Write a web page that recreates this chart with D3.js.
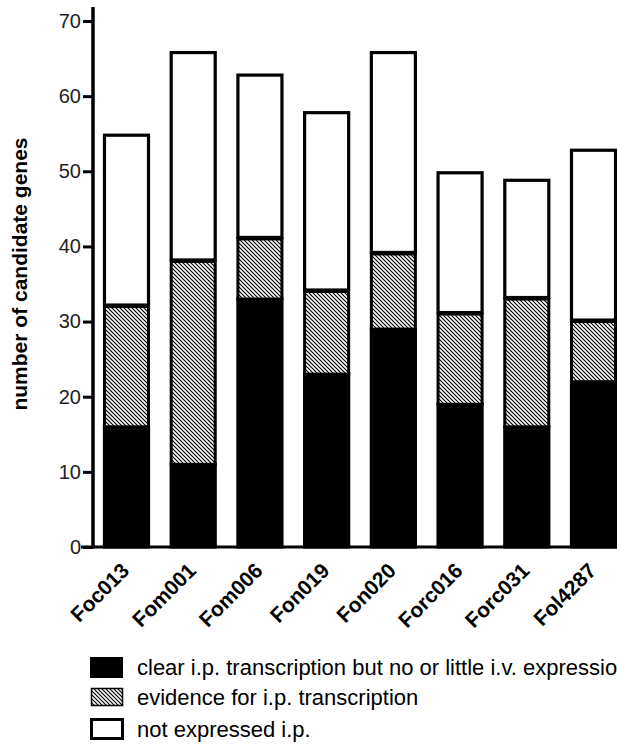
<!DOCTYPE html>
<html>
<head>
<meta charset="utf-8">
<script src="https://cdn.jsdelivr.net/npm/d3@7"></script>
<style>
  html, body { margin: 0; padding: 0; background: #fff; }
  svg { display: block; font-family: 'Liberation Sans', Arial, sans-serif; }
</style>
</head>
<body>
<div id="chart"></div>
<script>
// strains on the x axis
const strains = ['Foc013', 'Fom001', 'Fom006', 'Fon019', 'Fon020', 'Forc016', 'Forc031', 'Fol4287']
// stacked counts, bottom to top
const clearIp = [16, 11, 33, 23, 29, 19, 16, 22]
const evidenceIp = [16, 27, 8, 11, 10, 12, 17, 8]
const notExpressed = [23, 28, 22, 24, 27, 19, 16, 23]
const yTicks = [0, 10, 20, 30, 40, 50, 60, 70]
const legendLabels = [
  'clear i.p. transcription but no or little i.v. expression',
  'evidence for i.p. transcription',
  'not expressed i.p.'
]

const width = 617
const height = 745

const svg = d3.select('#chart')
  .append('svg')
  .attr('width', width)
  .attr('height', height)

// diagonal hatch like the original
const defs = svg.append('defs')
defs.append('pattern')
  .attr('id', 'hatch')
  .attr('patternUnits', 'userSpaceOnUse')
  .attr('width', 4)
  .attr('height', 4)
  .call(p => {
    p.append('rect').attr('width', 4).attr('height', 4).attr('fill', '#fff')
    p.append('path')
      .attr('d', 'M-1,-1L5,5M-1,3L1,5M3,-1L5,1')
      .attr('stroke', '#000')
      .attr('stroke-width', 1.2)
  })

const y = d3.scaleLinear().domain([0, 70]).range([547, 21])
const x = d3.scaleBand()
  .domain(strains)
  .range([93, 627])
  .paddingInner(0.34)
  .paddingOuter(0.172)

// build stacked rows
const rows = strains.map((s, i) => {
  const a = clearIp[i]
  const b = a + evidenceIp[i]
  const c = b + notExpressed[i]
  return { s, a, b, c }
})

const bars = svg.append('g')
  .selectAll('g')
  .data(rows)
  .join('g')

// clear i.p. (black, bottom)
bars.append('rect')
  .attr('x', d => x(d.s))
  .attr('y', d => y(d.a))
  .attr('width', x.bandwidth())
  .attr('height', d => y(0) - y(d.a))
  .attr('fill', '#000')
  .attr('stroke', '#000')
  .attr('stroke-width', 3.2)

// evidence (hatched, middle)
bars.append('rect')
  .attr('x', d => x(d.s))
  .attr('y', d => y(d.b))
  .attr('width', x.bandwidth())
  .attr('height', d => y(d.a) - y(d.b))
  .attr('fill', 'url(#hatch)')
  .attr('stroke', '#000')
  .attr('stroke-width', 3)

// not expressed (white, on top)
bars.append('rect')
  .attr('x', d => x(d.s))
  .attr('y', d => y(d.c) + 1.5)
  .attr('width', x.bandwidth())
  .attr('height', d => y(d.b) - y(d.c) - 3)
  .attr('fill', '#fff')
  .attr('stroke', '#000')
  .attr('stroke-width', 3.2)

// y axis
const yAxis = svg.append('g')
  .attr('transform', 'translate(93,0)')
  .call(d3.axisLeft(y).tickValues(yTicks).tickSize(10).tickPadding(2).tickSizeOuter(0))
yAxis.select('.domain').remove()
yAxis.selectAll('.tick line').attr('stroke', '#000').attr('stroke-width', 3)
yAxis.selectAll('.tick text')
  .attr('font-size', '20px')
  .attr('font-family', "'Liberation Sans', Arial, sans-serif")
  .attr('fill', '#222')
yAxis.append('line')
  .attr('x1', 0).attr('x2', 0)
  .attr('y1', y(0) + 1.5).attr('y2', 7)
  .attr('stroke', '#000')
  .attr('stroke-width', 3.5)

// x axis baseline
svg.append('line')
  .attr('x1', 81).attr('x2', width)
  .attr('y1', y(0)).attr('y2', y(0))
  .attr('stroke', '#000')
  .attr('stroke-width', 3)

// x labels, rotated
svg.append('g')
  .selectAll('text')
  .data(strains)
  .join('text')
  .attr('transform', d => `translate(${x(d) + x.bandwidth() / 2 + 4},${y(0) + 25}) rotate(-45)`)
  .attr('text-anchor', 'end')
  .attr('font-size', '21px')
  .attr('font-weight', 'bold')
  .attr('fill', '#000')
  .text(d => d)

// y title
svg.append('text')
  .attr('transform', 'translate(27,274) rotate(-90)')
  .attr('text-anchor', 'middle')
  .attr('font-size', '21px')
  .attr('font-weight', 'bold')
  .attr('fill', '#000')
  .text('number of candidate genes')

// legend
const legend = svg.append('g').attr('transform', 'translate(90,0)')
const rowsY = [667, 697, 729]
legendLabels.forEach((t, i) => {
  const g = legend.append('g').attr('transform', `translate(0,${rowsY[i]})`)
  if (i === 0) {
    g.append('rect').attr('x', 0).attr('y', -10).attr('width', 33).attr('height', 21).attr('fill', '#000')
  } else if (i === 1) {
    g.append('rect').attr('x', 1.5).attr('y', -8.5).attr('width', 31).attr('height', 17)
      .attr('fill', 'url(#hatch)').attr('stroke', '#000').attr('stroke-width', 1.5)
  } else {
    g.append('rect').attr('x', 1.5).attr('y', -9.5).attr('width', 31).attr('height', 19)
      .attr('fill', '#fff').attr('stroke', '#000').attr('stroke-width', 3)
  }
  g.append('text')
    .attr('x', 47)
    .attr('y', 0)
    .attr('dy', '0.35em')
    .attr('font-size', '22px')
    .attr('fill', '#000')
    .text(t)
})
</script>
</body>
</html>
